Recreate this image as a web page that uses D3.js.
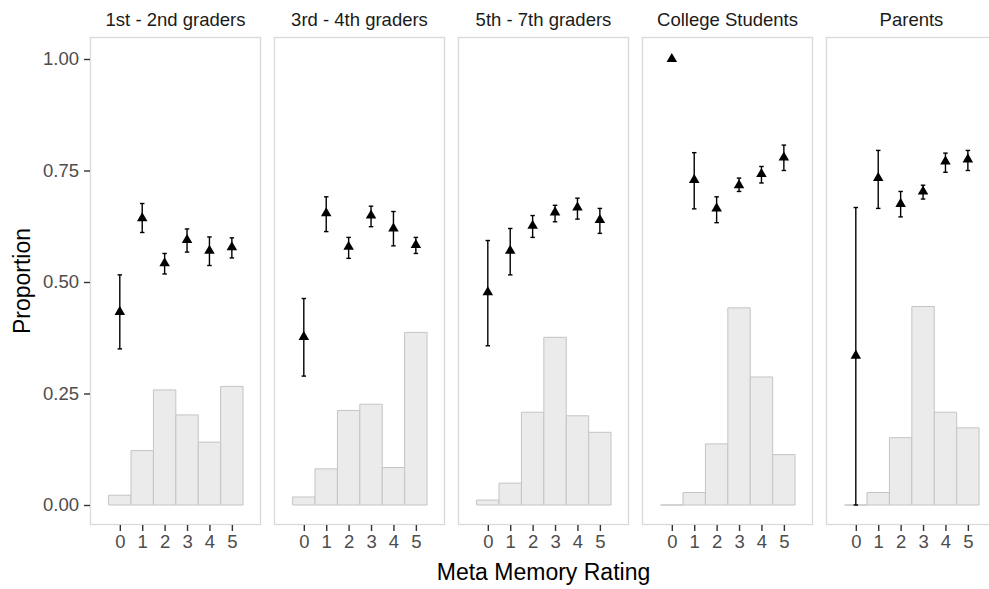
<!DOCTYPE html>
<html lang="en">
<head>
    <meta charset="UTF-8">
    <title>Meta Memory Rating</title>
    <style>
        body { margin: 0; background: #fff; }
        svg { display: block; font-family: "Liberation Sans", Arial, sans-serif; }
        .strip { font-size: 18.5px; fill: #1a1a1a; text-anchor: middle; }
        .tick-label { font-size: 18.5px; fill: #4d4d4d; }
        .axis-title { font-size: 23px; fill: #000; text-anchor: middle; }
    </style>
</head>
<body>
    <svg id="chart" width="989" height="589"></svg>

    <script src="https://d3js.org/d3.v7.min.js"></script>
    <script>
        // dados
        const groups = ["1st - 2nd graders", "3rd - 4th graders", "5th - 7th graders", "College Students", "Parents"];
        const ratings = [0, 1, 2, 3, 4, 5];
        const yTicks = [0, 0.25, 0.5, 0.75, 1];

        // histograma: proporcao de respostas em cada nota
        const histProp = [
            [0.022, 0.122, 0.258, 0.202, 0.141, 0.266],
            [0.018, 0.081, 0.212, 0.226, 0.084, 0.387],
            [0.011, 0.049, 0.208, 0.376, 0.200, 0.163],
            [0.000, 0.028, 0.137, 0.442, 0.287, 0.113],
            [0.000, 0.028, 0.151, 0.445, 0.208, 0.173]
        ];
        // proporcao media (triangulos) e limites das barras de erro
        const meanProp = [
            [0.433, 0.643, 0.542, 0.594, 0.570, 0.578],
            [0.377, 0.654, 0.579, 0.649, 0.620, 0.583],
            [0.477, 0.570, 0.626, 0.656, 0.667, 0.639],
            [1.000, 0.729, 0.665, 0.717, 0.742, 0.779],
            [0.335, 0.733, 0.675, 0.703, 0.770, 0.775]
        ];
        const lowerCI = [
            [0.350, 0.611, 0.518, 0.567, 0.537, 0.554],
            [0.289, 0.613, 0.553, 0.624, 0.581, 0.564],
            [0.357, 0.516, 0.600, 0.635, 0.641, 0.609],
            [1.000, 0.664, 0.633, 0.703, 0.722, 0.750],
            [0.000, 0.665, 0.646, 0.686, 0.746, 0.750]
        ];
        const upperCI = [
            [0.516, 0.676, 0.564, 0.619, 0.601, 0.599],
            [0.463, 0.691, 0.600, 0.670, 0.658, 0.600],
            [0.593, 0.620, 0.649, 0.672, 0.688, 0.665],
            [1.000, 0.790, 0.691, 0.733, 0.759, 0.807],
            [0.667, 0.795, 0.703, 0.717, 0.789, 0.795]
        ];

        const width = 989;
        const height = 589;
        const margin = { top: 37, right: -8, bottom: 64, left: 90 };

        const svg = d3.select("#chart");
        svg.append("rect").attr("width", width).attr("height", height).attr("fill", "#fff");

        // posicao de cada painel (facetas)
        const panelScale = d3.scaleBand()
            .domain(groups)
            .range([margin.left, width - margin.right])
            .paddingInner(0.0707)
            .paddingOuter(0);
        const pw = panelScale.bandwidth();

        const escala_y = d3.scaleLinear()
            .domain([0, 1])
            .range([505, 59]);

        const escala_x = d3.scaleLinear()
            .domain([-1.33, 6.3])
            .range([0, pw]);

        const unit = escala_x(1) - escala_x(0);
        const triangle = d3.symbol().type(d3.symbolTriangle).size(48);

        groups.forEach((g, i) => {
            const gi = svg.append("g")
                .attr("transform", `translate(${panelScale(g)},0)`);

            // fundo e borda do painel
            gi.append("rect")
                .attr("x", 0.5).attr("y", margin.top + 0.5)
                .attr("width", pw - 1).attr("height", 525 - margin.top - 1)
                .attr("fill", "#fff")
                .attr("stroke", "#d9d9d9")
                .attr("stroke-width", 1.3);

            // titulo da faceta
            gi.append("text")
                .attr("class", "strip")
                .attr("x", pw / 2)
                .attr("y", 26)
                .text(g);

            // barras do histograma (um contorno, para as barras de altura zero tambem)
            gi.selectAll(".bar")
                .data(ratings)
                .enter()
                .append("path")
                .attr("class", "bar")
                .attr("d", r => {
                    const x0 = escala_x(r - 0.5), x1 = escala_x(r + 0.5);
                    const y0 = escala_y(0), y1 = escala_y(histProp[i][r]);
                    return `M${x0},${y0}L${x0},${y1}L${x1},${y1}L${x1},${y0}Z`;
                })
                .attr("fill", "#ebebeb")
                .attr("stroke", "#c4c4c4")
                .attr("stroke-width", 1);

            // barras de erro
            const eb = gi.selectAll(".err")
                .data(ratings.filter(r => upperCI[i][r] > lowerCI[i][r]))
                .enter()
                .append("g")
                .attr("class", "err")
                .attr("stroke", "#000")
                .attr("stroke-width", 1.4);
            eb.append("line")
                .attr("x1", r => escala_x(r)).attr("x2", r => escala_x(r))
                .attr("y1", r => escala_y(upperCI[i][r]))
                .attr("y2", r => escala_y(lowerCI[i][r]));
            eb.append("line")
                .attr("x1", r => escala_x(r - 0.1)).attr("x2", r => escala_x(r + 0.1))
                .attr("y1", r => escala_y(upperCI[i][r]))
                .attr("y2", r => escala_y(upperCI[i][r]));
            eb.append("line")
                .attr("x1", r => escala_x(r - 0.1)).attr("x2", r => escala_x(r + 0.1))
                .attr("y1", r => escala_y(lowerCI[i][r]))
                .attr("y2", r => escala_y(lowerCI[i][r]));

            // triangulos
            gi.selectAll(".pt")
                .data(ratings)
                .enter()
                .append("path")
                .attr("class", "pt")
                .attr("d", triangle)
                .attr("transform", r => `translate(${escala_x(r)},${escala_y(meanProp[i][r])})`)
                .attr("fill", "#000");

            // eixo x
            const xAxis = gi.append("g")
                .attr("transform", `translate(0,525)`)
                .call(d3.axisBottom(escala_x).tickValues(ratings).tickFormat(d3.format("d")).tickSize(6).tickPadding(4));
            xAxis.select(".domain").remove();
            xAxis.selectAll(".tick line").attr("stroke", "#333").attr("stroke-width", 1.4);
            xAxis.selectAll(".tick text").attr("class", "tick-label").attr("font-family", null).attr("font-size", null).attr("fill", null);
        });

        // eixo y
        const yAxis = svg.append("g")
            .attr("transform", `translate(${margin.left},0)`)
            .call(d3.axisLeft(escala_y).tickValues(yTicks).tickFormat(d3.format(".2f")).tickSize(6).tickPadding(5));
        yAxis.select(".domain").remove();
        yAxis.selectAll(".tick line").attr("stroke", "#333").attr("stroke-width", 1.4);
        yAxis.selectAll(".tick text").attr("class", "tick-label").attr("font-family", null).attr("font-size", null).attr("fill", null);

        // titulos dos eixos
        svg.append("text")
            .attr("class", "axis-title")
            .attr("x", (margin.left + width - margin.right) / 2)
            .attr("y", 580)
            .text("Meta Memory Rating");

        svg.append("text")
            .attr("class", "axis-title")
            .attr("transform", `translate(30,281) rotate(-90)`)
            .text("Proportion");
    </script>
</body>
</html>
